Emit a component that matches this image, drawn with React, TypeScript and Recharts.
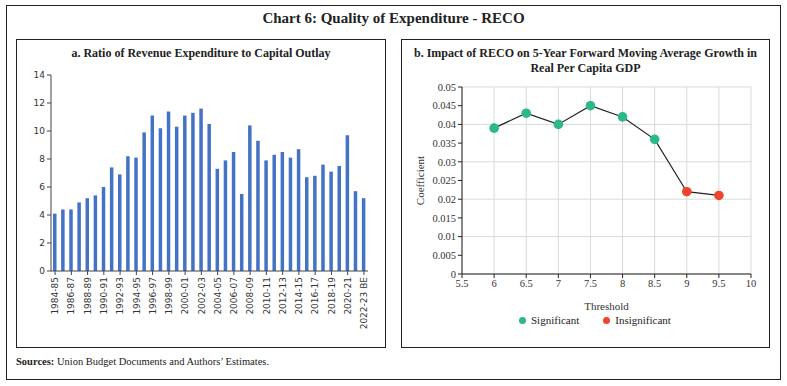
import React from 'react';
import {
  BarChart,
  Bar,
  XAxis,
  YAxis,
  ComposedChart,
  Line,
  Scatter,
  CartesianGrid,
} from 'recharts';

// Panel a: ratio of revenue expenditure to capital outlay
const years = [
  '1984-85', '1985-86', '1986-87', '1987-88', '1988-89', '1989-90', '1990-91',
  '1991-92', '1992-93', '1993-94', '1994-95', '1995-96', '1996-97', '1997-98',
  '1998-99', '1999-00', '2000-01', '2001-02', '2002-03', '2003-04', '2004-05',
  '2005-06', '2006-07', '2007-08', '2008-09', '2009-10', '2010-11', '2011-12',
  '2012-13', '2013-14', '2014-15', '2015-16', '2016-17', '2017-18', '2018-19',
  '2019-20', '2020-21', '2021-22', '2022-23 BE',
];
const recoRatio = [
  4.1, 4.4, 4.4, 4.9, 5.2, 5.4, 6.0, 7.4, 6.9, 8.2, 8.1, 9.9, 11.1, 10.2, 11.4,
  10.3, 11.1, 11.3, 11.6, 10.5, 7.3, 7.9, 8.5, 5.5, 10.4, 9.3, 7.9, 8.3, 8.5,
  8.1, 8.7, 6.7, 6.8, 7.6, 7.1, 7.5, 9.7, 5.7, 5.2,
];
const ratioTicks = [0, 2, 4, 6, 8, 10, 12, 14];

// Panel b: impact of RECO on growth, by threshold
const thresholds = [6, 6.5, 7, 7.5, 8, 8.5, 9, 9.5];
const coefficients = [0.039, 0.043, 0.04, 0.045, 0.042, 0.036, 0.022, 0.021];
const significant = [true, true, true, true, true, true, false, false];
const thresholdTicks = [5.5, 6, 6.5, 7, 7.5, 8, 8.5, 9, 9.5, 10];
const coefTicks = [0, 0.005, 0.01, 0.015, 0.02, 0.025, 0.03, 0.035, 0.04, 0.045, 0.05];

const GREEN = '#2BB98A';
const RED = '#F0452B';
const SERIF = '"Liberation Serif", "DejaVu Serif", serif';
const SANS = '"DejaVu Sans", Verdana, sans-serif';

const barData = years.map((year, i) => ({ year, value: recoRatio[i] }));
const lineData = thresholds.map((t, i) => ({ t, c: coefficients[i] }));
const sigData = lineData.filter((_, i) => significant[i]);
const insigData = lineData.filter((_, i) => !significant[i]);

const YearTick = (props: any) => {
  const { x, y, payload } = props;
  return (
    <g transform={`translate(${x},${y})`}>
      <text transform="rotate(-90)" textAnchor="end" dy="0.35em" fontSize={9} fontFamily={SANS} fill="#333">
        {payload.value}
      </text>
    </g>
  );
};

const serifTick = { fontSize: 10.5, fill: '#333', style: { fontFamily: SERIF } };

const box = (left: number, top: number, width: number, height: number): React.CSSProperties => ({
  position: 'absolute',
  left,
  top,
  width,
  height,
  border: '1.3px solid #222',
  boxSizing: 'border-box',
});

export default function App() {
  return (
    <div style={{ position: 'absolute', left: 0, top: 0, width: 787, height: 386, background: '#fff', fontFamily: SERIF, color: '#222' }}>
      <div style={box(6, 5, 775, 375)} />
      <div style={{ position: 'absolute', left: 0, top: 10, width: 787, textAlign: 'center', fontSize: 15, fontWeight: 'bold' }}>
        Chart 6: Quality of Expenditure - RECO
      </div>
      <div style={box(16, 39, 370, 309)} />
      <div style={box(401, 39, 369, 309)} />

      <div style={{ position: 'absolute', left: 16, top: 46, width: 370, textAlign: 'center', fontSize: 12, fontWeight: 'bold' }}>
        a. Ratio of Revenue Expenditure to Capital Outlay
      </div>
      <div style={{ position: 'absolute', left: 401, top: 46, width: 369, textAlign: 'center', fontSize: 12, fontWeight: 'bold', lineHeight: '15px' }}>
        b. Impact of RECO on 5-Year Forward Moving Average Growth in
        <br />
        Real Per Capita GDP
      </div>

      <div style={{ position: 'absolute', left: 0, top: 0 }}>
        <BarChart width={390} height={350} data={barData} margin={{ top: 75, right: 22, left: 21, bottom: 9 }} barSize={3.5}>
          <XAxis
            dataKey="year"
            interval={1}
            height={70}
            tick={<YearTick />}
            tickSize={4}
            tickMargin={2}
            stroke="#444"
          />
          <YAxis
            domain={[0, 14]}
            ticks={ratioTicks}
            width={30}
            tickSize={4}
            tick={{ fontSize: 9, fill: '#333', style: { fontFamily: SANS } }}
            stroke="#444"
          />
          <Bar dataKey="value" fill="#4472C4" isAnimationActive={false} />
        </BarChart>
      </div>

      <div style={{ position: 'absolute', left: 400, top: 0 }}>
        <ComposedChart width={380} height={340} margin={{ top: 87, right: 29, left: 14, bottom: 30 }} style={{ fontFamily: SERIF }}>
          <CartesianGrid stroke="#d9d9d9" />
          <XAxis
            type="number"
            dataKey="t"
            domain={[5.5, 10]}
            ticks={thresholdTicks}
            height={36}
            tickSize={4}
            tick={serifTick}
            stroke="#222"
            label={{ value: 'Threshold', position: 'insideBottom', offset: 0, fontSize: 11, fill: '#333', style: { fontFamily: SERIF } }}
          />
          <YAxis
            type="number"
            domain={[0, 0.05]}
            ticks={coefTicks}
            width={48}
            tickSize={4}
            tick={serifTick}
            stroke="#222"
            label={{ value: 'Coefficient', angle: -90, position: 'insideLeft', offset: 6, fontSize: 11, fill: '#333', style: { textAnchor: 'middle', fontFamily: SERIF } }}
          />
          <Line data={lineData} dataKey="c" stroke="#222" strokeWidth={1.2} dot={false} legendType="none" isAnimationActive={false} />
          <Scatter data={sigData} dataKey="c" fill={GREEN} shape={(p: any) => <circle cx={p.cx} cy={p.cy} r={4.8} fill={GREEN} />} isAnimationActive={false} />
          <Scatter data={insigData} dataKey="c" fill={RED} shape={(p: any) => <circle cx={p.cx} cy={p.cy} r={4.8} fill={RED} />} isAnimationActive={false} />
        </ComposedChart>
      </div>

      <div style={{ position: 'absolute', left: 519, top: 314, fontSize: 11, display: 'flex', alignItems: 'center', whiteSpace: 'nowrap' }}>
        <span style={{ width: 7, height: 7, borderRadius: '50%', background: GREEN, display: 'inline-block', marginRight: 5 }} />
        <span style={{ marginRight: 24 }}>Significant</span>
        <span style={{ width: 7, height: 7, borderRadius: '50%', background: RED, display: 'inline-block', marginRight: 5 }} />
        <span>Insignificant</span>
      </div>

      <div style={{ position: 'absolute', left: 16, top: 356, fontSize: 10.5 }}>
        <b>Sources:</b> Union Budget Documents and Authors’ Estimates.
      </div>
    </div>
  );
}
